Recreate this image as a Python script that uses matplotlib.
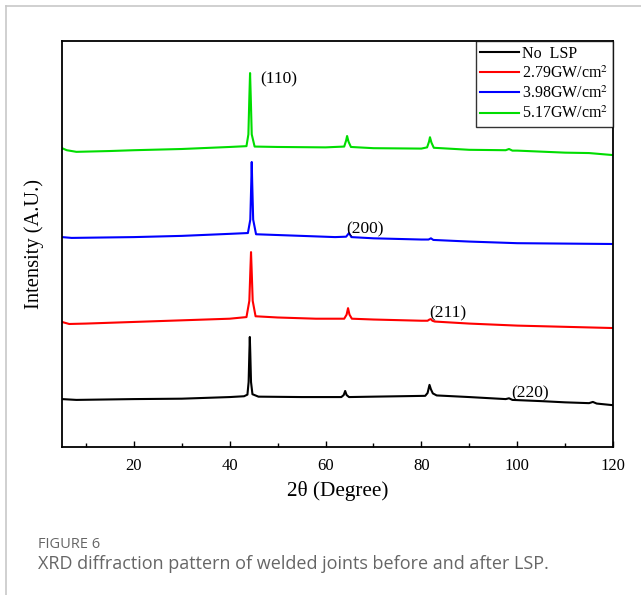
"""XRD patterns of welded joints before and after LSP (recreated figure)."""
import matplotlib.pyplot as plt
from matplotlib.lines import Line2D

plt.rcParams["font.family"] = ["Liberation Serif", "DejaVu Serif"]
plt.rcParams["mathtext.fontset"] = "stix"

# 2theta / intensity (a.u., vertically offset curves)
BLACK_X = [5, 8, 20, 30, 40, 43, 43.7, 43.95, 44.1, 44.2, 44.3, 44.45, 44.75, 46,
           55, 63.3, 63.8, 64.1, 64.4, 64.9, 70, 80.8, 81.3, 81.7, 82.0, 82.4, 83.2,
           90, 97.6, 98.3, 99, 105, 110, 115, 115.8, 116.6, 120]
BLACK_Y = [118, 116, 118, 119, 123, 125, 129, 160, 230, 271, 230, 160, 130, 124,
           123, 123, 128, 138, 128, 123, 124, 126, 133, 153, 142, 132, 127,
           123, 118, 120, 116, 113, 110, 108, 111, 107, 103]

RED_X = [5, 6.5, 10, 20, 30, 40, 43.5, 44.1, 44.3, 44.45, 44.6, 44.8, 45.4, 50,
         58, 63.9, 64.4, 64.7, 65.0, 65.5, 70, 80, 81.3, 81.7, 82.0, 82.3, 82.8,
         90, 100, 110, 120]
RED_Y = [308, 303, 304, 308, 312, 316, 320, 360, 430, 480, 430, 360, 322, 319,
         316, 316, 326, 342, 326, 316, 314, 311, 311, 314, 315, 311, 309,
         304, 299, 296, 293]

BLUE_X = [5, 7, 20, 30, 40, 43.8, 44.3, 44.5, 44.6, 44.7, 44.9, 45.5, 55, 62,
          64.3, 64.9, 65.4, 70, 80, 81.5, 82.0, 82.5, 90, 100, 110, 120]
BLUE_Y = [517, 515, 517, 520, 525, 527, 560, 650, 702, 650, 560, 524, 520, 517,
          518, 527, 517, 514, 511, 511, 514, 510, 506, 502, 501, 500]

GREEN_X = [5, 6, 8, 15, 20, 30, 40, 43.5, 43.9, 44.1, 44.25, 44.4, 44.6, 45.2,
           50, 60, 63.9, 64.3, 64.5, 64.8, 65.3, 70, 80, 81.2, 81.6, 81.8, 82.1,
           82.6, 90, 97.6, 98.3, 99, 100, 110, 115, 120]
GREEN_Y = [736, 731, 727, 729, 731, 734, 739, 741, 770, 860, 921, 860, 770, 740,
           739, 738, 740, 755, 766, 752, 739, 736, 735, 738, 752, 763, 750,
           737, 732, 731, 734, 730, 730, 725, 724, 719]

SERIES = [
    (BLACK_X, BLACK_Y, "black", "No  LSP"),
    (RED_X, RED_Y, "red", "2.79GW/cm$^2$"),
    (BLUE_X, BLUE_Y, "blue", "3.98GW/cm$^2$"),
    (GREEN_X, GREEN_Y, "#00dd00", "5.17GW/cm$^2$"),
]

PEAK_LABELS = [("(110)", 46.3, 905), ("(200)", 64.3, 537),
               ("(211)", 81.6, 328), ("(220)", 98.7, 133)]

fig = plt.figure(figsize=(6.41, 5.95), dpi=100)
ax = fig.add_axes([62 / 641, 1 - 447 / 595, 551 / 641, 406 / 595])

for xs, ys, color, label in SERIES:
    ax.plot(xs, ys, color=color, lw=1.5, label=label)

for text, x, y in PEAK_LABELS:
    ax.text(x, y, text, fontsize=12.5, ha="left", va="center")

ax.set_xlim(5, 120)
ax.set_ylim(0, 1000)
ax.set_xticks([20, 40, 60, 80, 100, 120])
ax.set_xticks([10, 30, 50, 70, 90, 110], minor=True)
ax.set_yticks([])
ax.tick_params(axis="x", direction="in", labelsize=12, length=4, width=1, pad=8)
ax.tick_params(axis="x", which="minor", direction="in", length=3, width=1)
for sp in ax.spines.values():
    sp.set_linewidth(1.3)

ax.set_xlabel("2θ (Degree)", fontsize=15.3, labelpad=5)
ax.set_ylabel("Intensity (A.U.)", fontsize=14.8, labelpad=13)

leg = ax.legend(loc="upper right", fontsize=11.5, frameon=True, fancybox=False,
                borderaxespad=0, handlelength=2.4, handletextpad=0.2,
                labelspacing=0.22, borderpad=0.3)
leg.get_frame().set_edgecolor("black")
leg.get_frame().set_linewidth(1.0)

# page border of the article figure box
fig.add_artist(Line2D([6 / 641, 1], [1 - 6 / 595, 1 - 6 / 595], color="#c8c8c8", lw=1.2))
fig.add_artist(Line2D([6 / 641, 6 / 641], [0, 1 - 6 / 595], color="#c8c8c8", lw=1.2))

fig.text(38 / 641, 1 - 545 / 595, "FIGURE 6", fontsize=10.5, color="#666666",
         family="Open Sans", va="center")
fig.text(38 / 641, 1 - 564 / 595, "XRD diffraction pattern of welded joints before and after LSP.",
         fontsize=13, color="#666666", family="Open Sans", va="center")

fig.savefig("out.png", dpi=100)
